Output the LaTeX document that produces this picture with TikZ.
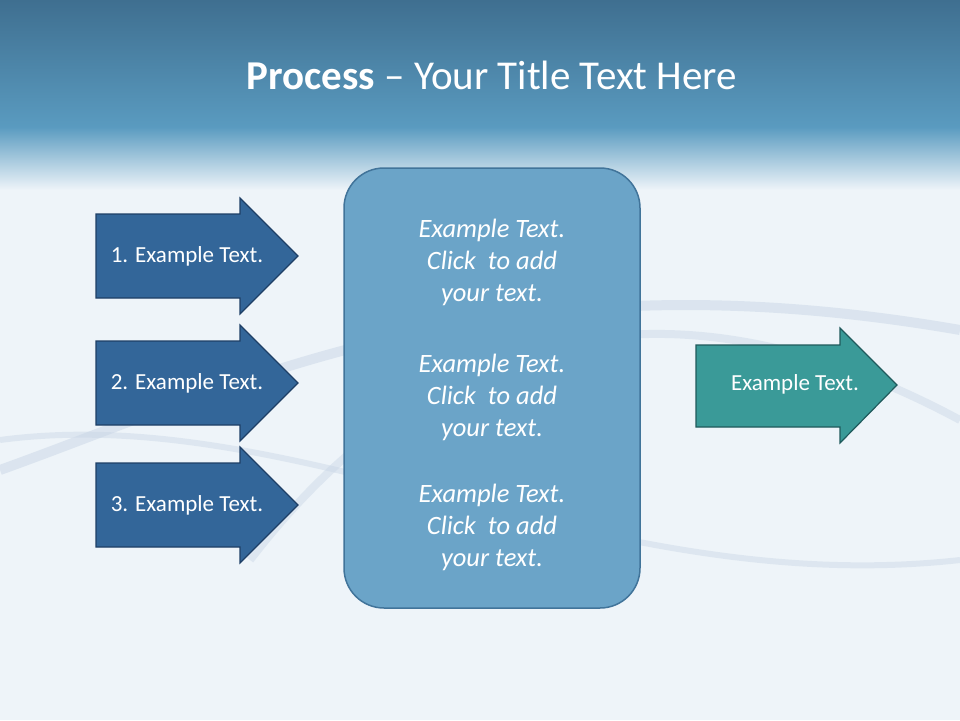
\documentclass[tikz,border=0pt]{standalone}
\usepackage{fontspec}
\setmainfont{Carlito}
\begin{document}
\begin{tikzpicture}[x=1pt,y=-1pt,
  blarrow/.style={fill=arrowblue,draw=arrowedge,line width=1.2pt},
  tlarrow/.style={fill=arrowteal,draw=tealedge,line width=1.2pt},
  lbl/.style={text=white,font=\fontsize{23}{26}\selectfont},
  boxtxt/.style={text=white,align=center,font=\itshape\fontsize{26.5}{32}\selectfont}]
\definecolor{arrowblue}{HTML}{336699}
\definecolor{arrowedge}{HTML}{1E3F66}
\definecolor{arrowteal}{HTML}{3A9A98}
\definecolor{tealedge}{HTML}{1F5A5C}
\definecolor{boxfill}{HTML}{6BA4C8}
\definecolor{boxedge}{HTML}{41749A}
\definecolor{topblue}{HTML}{3F6F90}
\definecolor{midblue}{HTML}{5A9BC0}
\definecolor{bgwhite}{HTML}{EEF4F9}
\definecolor{swirl}{HTML}{C9D6E6}
\useasboundingbox (0,0) rectangle (960,720);
\fill[bgwhite] (0,0) rectangle (960,720);
\shade[top color=topblue,bottom color=midblue] (0,0) rectangle (960,128);
\shade[top color=midblue,bottom color=bgwhite] (0,127) rectangle (960,190);
% faint swirls
\draw[swirl,line width=10pt,opacity=0.5] (0,470) .. controls (250,380) and (500,250) .. (960,330);
\draw[swirl,line width=6pt,opacity=0.45] (0,440) .. controls (300,400) and (600,600) .. (960,560);
\draw[swirl,line width=8pt,opacity=0.45] (250,560) .. controls (450,300) and (700,280) .. (960,420);
\node[text=white,font=\fontsize{41}{46}\selectfont] (title) at (492,75) {\textbf{Process} -- Your Title Text Here};
% left arrows
\draw[blarrow] (96,214) -- (240,214) -- (240,198) -- (298,256) -- (240,314) -- (240,298) -- (96,298) -- cycle;
\node[lbl] (a1) at (187,256) {1. Example Text.};
\draw[blarrow] (96,341) -- (240,341) -- (240,325) -- (298,383) -- (240,441) -- (240,425) -- (96,425) -- cycle;
\node[lbl] (a2) at (187,383) {2. Example Text.};
\draw[blarrow] (96,463) -- (240,463) -- (240,447) -- (298,505) -- (240,563) -- (240,547) -- (96,547) -- cycle;
\node[lbl] (a3) at (187,505) {3. Example Text.};
% center box
\draw[fill=boxfill,draw=boxedge,line width=1.5pt,rounded corners=40pt] (344,168) rectangle (640,608);
\node[boxtxt] (t1) at (492,262) {Example Text.\\Click\ \ to add\\your text.};
\node[boxtxt] (t2) at (492,397) {Example Text.\\Click\ \ to add\\your text.};
\node[boxtxt] (t3) at (492,527) {Example Text.\\Click\ \ to add\\your text.};
% right arrow
\draw[tlarrow] (696,345) -- (840,345) -- (840,328) -- (897,385) -- (840,443) -- (840,427) -- (696,427) -- cycle;
\node[lbl] (r) at (795,384) {Example Text.};
\end{tikzpicture}
\end{document}
